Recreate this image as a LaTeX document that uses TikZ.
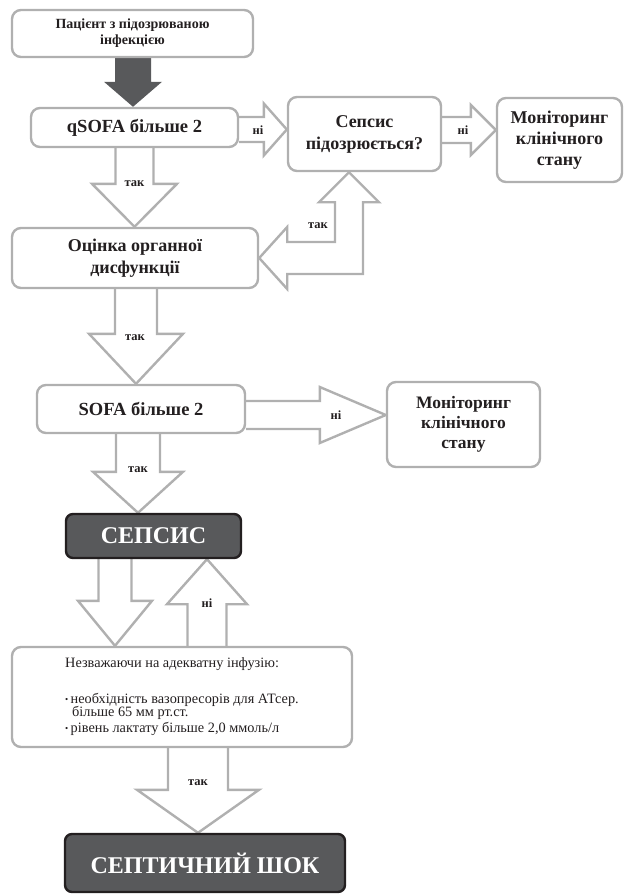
\documentclass[tikz,border=0pt]{standalone}
\usepackage{fontspec}
\setmainfont{Liberation Serif}
\usetikzlibrary{calc}
\definecolor{boxgray}{RGB}{176,176,176}
\definecolor{darkfill}{RGB}{88,89,91}
\definecolor{inkblack}{RGB}{35,31,32}
\pgfdeclarelayer{back}
\pgfsetlayers{back,main}

\tikzset{
  box/.style={draw=boxgray, line width=2.4pt, rounded corners=9pt, fill=white,
    align=center, inner sep=0pt, text=inkblack},
  darkbox/.style={draw=inkblack, line width=2.4pt, rounded corners=7pt, fill=darkfill,
    text=white, inner sep=0pt, font=\bfseries\fontsize{24}{26}\selectfont},
  blk/.style={draw=boxgray, line width=2.4pt, fill=white, line join=miter},
  darkblk/.style={fill=darkfill, draw=none},
  lbl/.style={text=inkblack, inner sep=1pt, font=\bfseries\fontsize{12.5}{13}\selectfont}
}

% vertical block arrow: [style]{axis x}{from}{to}{shaft}{head}{head length, + down}
\newcommand{\vblock}[7][blk]{%
  \filldraw[#1] let \p1=(#3), \p2=(#4) in
    (#2pt-#5pt,\y1) -- (#2pt-#5pt,\y2+#7pt) -- (#2pt-#6pt,\y2+#7pt) -- (#2pt,\y2)
    -- (#2pt+#6pt,\y2+#7pt) -- (#2pt+#5pt,\y2+#7pt) -- (#2pt+#5pt,\y1);}
% horizontal block arrow: [style]{axis y}{from}{to}{shaft}{head}{head length}
\newcommand{\hblock}[7][blk]{%
  \filldraw[#1] let \p1=(#3), \p2=(#4) in
    (\x1,-#2pt+#5pt) -- (\x2-#7pt,-#2pt+#5pt) -- (\x2-#7pt,-#2pt+#6pt) -- (\x2,-#2pt)
    -- (\x2-#7pt,-#2pt-#6pt) -- (\x2-#7pt,-#2pt-#5pt) -- (\x1,-#2pt-#5pt);}
\newcommand{\bul}{{\fontsize{9}{9}\selectfont\raisebox{0.1em}{\textbullet}}\,}

\begin{document}
\begin{tikzpicture}[x=1pt, y=-1pt]
\useasboundingbox (0,0) rectangle (624,894);

\node[box, minimum width=241, minimum height=47, font=\bfseries\fontsize{14}{16}\selectfont] (pat) at (132.5,33.5) {Пацієнт з підозрюваною\\інфекцією};
\node[box, minimum width=207, minimum height=39, font=\bfseries\fontsize{18.5}{20}\selectfont] (qsofa) at (134.5,127.5) {qSOFA більше 2};
\node[box, minimum width=153, minimum height=74, font=\bfseries\fontsize{18}{22}\selectfont] (susp) at (364.5,134) {Сепсис\\підозрюється?};
\node[box, minimum width=125, minimum height=84, font=\bfseries\fontsize{18}{21}\selectfont] (mon1) at (559.5,140) {Моніторинг\\клінічного\\стану};
\node[box, minimum width=246, minimum height=60, font=\bfseries\fontsize{18}{22}\selectfont] (ocinka) at (135,258) {Оцінка органної\\дисфункції};
\node[box, minimum width=208, minimum height=48, font=\bfseries\fontsize{18.5}{20}\selectfont] (sofa) at (141,409) {SOFA більше 2};
\node[box, minimum width=153, minimum height=85, font=\bfseries\fontsize{17.5}{20}\selectfont] (mon2) at (463.5,424.5) {Моніторинг\\клінічного\\стану};
\node[darkbox, minimum width=175, minimum height=44] (sepsis) at (153.5,536) {СЕПСИС};
\node[box, minimum width=340, minimum height=100, align=left, font=\fontsize{14.3}{13}\selectfont] (infuz) at (182,697)
  {Незважаючи на адекватну інфузію:\\[21pt]
   \bul необхідність вазопресорів для АТсер.\\[-1pt]
   \hspace*{7pt}більше 65 мм рт.ст.\\[2pt]
   \bul рівень лактату більше 2,0 ммоль/л};
\node[darkbox, minimum width=280, minimum height=58] (shock) at (205,863) {СЕПТИЧНИЙ ШОК};

\begin{pgfonlayer}{back}
\vblock[darkblk]{133}{pat.south}{qsofa.north}{18}{29}{25}
\hblock{129.5}{qsofa.east}{susp.west}{12.5}{26}{23}
\hblock{130}{susp.east}{mon1.west}{13}{25}{25}
\vblock{134.5}{qsofa.south}{ocinka.north}{19}{42.5}{43}
\filldraw[blk] let \p1=(ocinka.east), \p2=(susp.south) in
  (\x1,\y1) -- (\x1+28pt,\y1+31pt) -- (\x1+28pt,\y1+16pt) -- (335pt,\y1+16pt)
  -- (335pt,\y2-30pt) -- (319pt,\y2-30pt) -- (349pt,\y2) -- (379pt,\y2-30pt)
  -- (363pt,\y2-30pt) -- (363pt,\y1-16pt) -- (\x1+28pt,\y1-16pt) -- (\x1+28pt,\y1-31pt) -- cycle;
\vblock{136}{ocinka.south}{sofa.north}{21}{47}{50}
\hblock{415}{sofa.east}{mon2.west}{14}{28}{66}
\vblock{138}{sofa.south}{sepsis.north}{22}{45}{41}
\vblock{115}{sepsis.south}{infuz.north}{16.5}{37}{45}
\vblock{207}{infuz.north}{sepsis.south}{19.5}{40}{-45}
\vblock{198}{infuz.south}{shock.north}{30}{61}{43}
\end{pgfonlayer}

\node[lbl] (l1) at (258,130) {ні};
\node[lbl] (l2) at (463,130) {ні};
\node[lbl] (l3) at (134.5,184) {так};
\node[lbl] (l4) at (318,226) {так};
\node[lbl] (l5) at (135,338) {так};
\node[lbl] (l6) at (336,415) {ні};
\node[lbl] (l7) at (138,470) {так};
\node[lbl] (l8) at (207,603) {ні};
\node[lbl] (l9) at (198,783) {так};

%\draw[lightgray] (0,0) grid[step=50] (624,894);
\end{tikzpicture}
\end{document}
